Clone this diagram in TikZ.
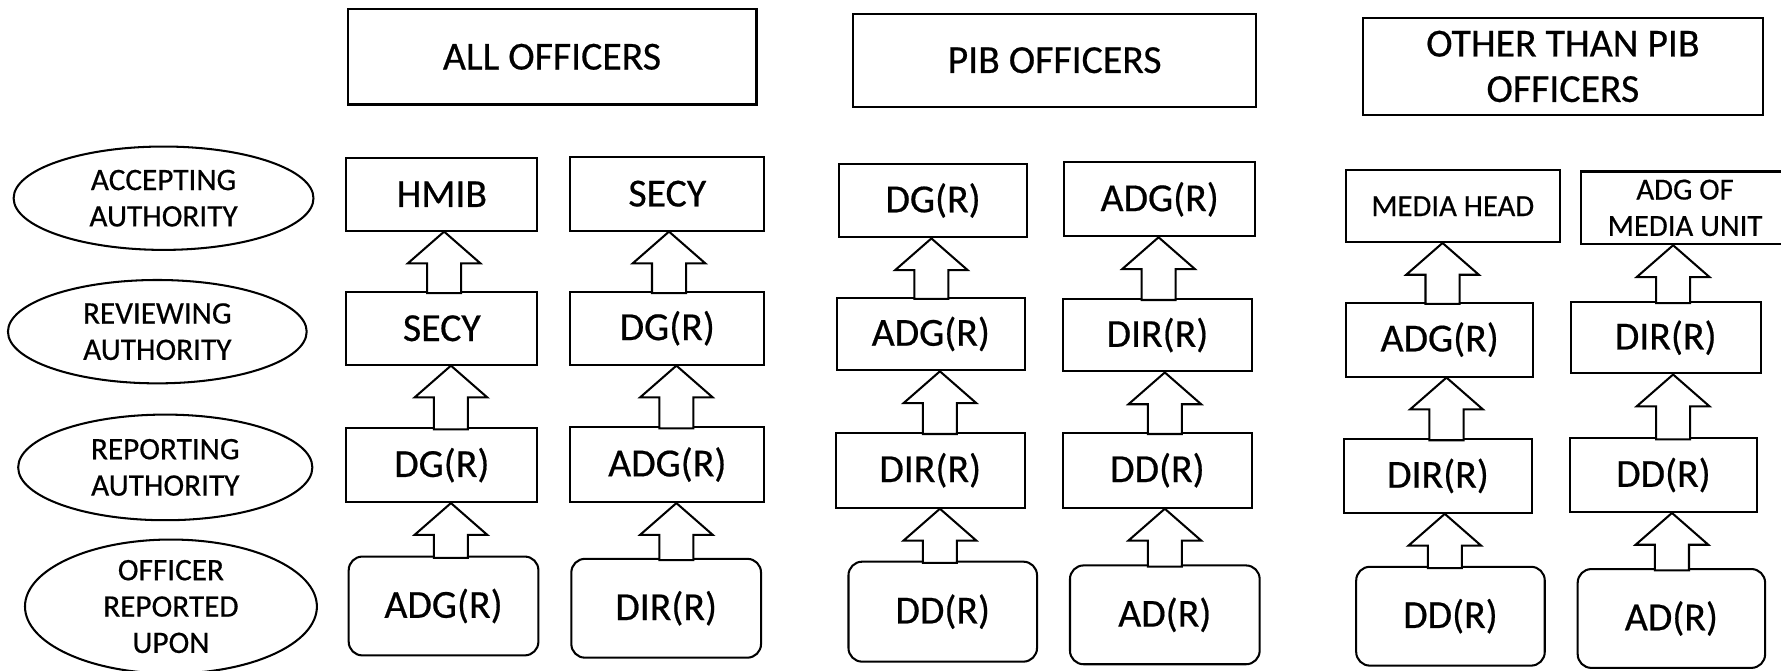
\documentclass[tikz,border=0pt]{standalone}
\usepackage{fontspec}
\setmainfont{Carlito}[FakeBold=0.5]
\usetikzlibrary{shapes.geometric,calc}
\newcommand{\blkarrow}[3]{%
  \coordinate (bt) at (#3,0 |- #1.south);
  \coordinate (bb) at (#3,0 |- #2.north);
  \draw[blk] (bt) -- ($(bt)+(32,28)$) -- ($(bt)+(15,28)$) -- ($(bb)+(15,2)$)
    -- ($(bb)+(-15,2)$) -- ($(bt)+(-15,28)$) -- ($(bt)+(-32,28)$) -- cycle;}
\begin{document}
\begin{tikzpicture}[x=1pt,y=-1pt,line width=1.8pt,
  box/.style={draw,rectangle,inner sep=0pt,align=center,font=\fontsize{35}{40}\selectfont},
  rbox/.style={box,rounded corners=12pt},
  hdr/.style={box,font=\fontsize{35}{40}\selectfont},
  smallbox/.style={box,font=\fontsize{27}{32}\selectfont},
  oval/.style={draw,ellipse,inner sep=0pt,inner ysep=-6pt,align=center,font=\fontsize{27.5}{32}\selectfont},
  blk/.style={draw,fill=white,line join=miter}]
\useasboundingbox (0,0) rectangle (1568,590);
% headers
\node[hdr,minimum width=360,minimum height=84] (h1) at (486,50) {ALL OFFICERS};
\node[hdr,minimum width=355,minimum height=82] (h2) at (928.5,53) {PIB OFFICERS};
\node[hdr,minimum width=352,minimum height=85] (h3) at (1376,58.5) {OTHER THAN PIB\\OFFICERS};
% ellipses
\node[oval,minimum width=264,minimum height=91] (e1) at (144,174.5) {ACCEPTING\\AUTHORITY};
\node[oval,minimum width=263,minimum height=91] (e2) at (138.5,292) {REVIEWING\\AUTHORITY};
\node[oval,minimum width=259,minimum height=93] (e3) at (145.5,411.5) {REPORTING\\AUTHORITY};
\node[oval,minimum width=257,minimum height=118] (e4) at (150.5,534) {OFFICER\\REPORTED\\UPON};
% column 1
\node[box,minimum width=168,minimum height=64] (c1a) at (389,171) {HMIB};
\node[box,minimum width=168,minimum height=64] (c1b) at (389,289) {SECY};
\node[box,minimum width=168,minimum height=65] (c1c) at (389,409.5) {DG(R)};
\node[rbox,minimum width=167,minimum height=87] (c1d) at (390.5,533.5) {ADG(R)};
% column 2
\node[box,minimum width=171,minimum height=65] (c2a) at (587.5,170.5) {SECY};
\node[box,minimum width=171,minimum height=64] (c2b) at (587.5,289) {DG(R)};
\node[box,minimum width=171,minimum height=66] (c2c) at (587.5,409) {ADG(R)};
\node[rbox,minimum width=167,minimum height=87] (c2d) at (586.5,535.5) {DIR(R)};
% column 3
\node[box,minimum width=165,minimum height=65] (c3a) at (821.5,176.5) {DG(R)};
\node[box,minimum width=165,minimum height=64] (c3b) at (819.5,294) {ADG(R)};
\node[box,minimum width=166,minimum height=66] (c3c) at (819,414) {DIR(R)};
\node[rbox,minimum width=166,minimum height=88] (c3d) at (830,538.5) {DD(R)};
% column 4
\node[box,minimum width=168,minimum height=65] (c4a) at (1021,175.5) {ADG(R)};
\node[box,minimum width=166,minimum height=64] (c4b) at (1019,295) {DIR(R)};
\node[box,minimum width=166,minimum height=66] (c4c) at (1019,414) {DD(R)};
\node[rbox,minimum width=167,minimum height=87] (c4d) at (1025.5,541.3) {AD(R)};
% column 5
\node[smallbox,minimum width=188,minimum height=63] (c5a) at (1279,181.5) {MEDIA HEAD};
\node[box,minimum width=165,minimum height=65] (c5b) at (1267.5,299) {ADG(R)};
\node[box,minimum width=166,minimum height=65] (c5c) at (1266,419) {DIR(R)};
\node[rbox,minimum width=166,minimum height=87] (c5d) at (1277,542.5) {DD(R)};
% column 6
\node[smallbox,minimum width=183,minimum height=64] (c6a) at (1483.5,183) {ADG OF\\MEDIA UNIT};
\node[box,minimum width=167,minimum height=63] (c6b) at (1466.5,297.3) {DIR(R)};
\node[box,minimum width=165,minimum height=65] (c6c) at (1464.5,418.2) {DD(R)};
\node[rbox,minimum width=165,minimum height=87] (c6d) at (1471.5,544.5) {AD(R)};
% block arrows
\blkarrow{c1a}{c1b}{391}
\blkarrow{c1b}{c1c}{397}
\blkarrow{c1c}{c1d}{397}
\blkarrow{c2a}{c2b}{589}
\blkarrow{c2b}{c2c}{595.5}
\blkarrow{c2c}{c2d}{595.5}
\blkarrow{c3a}{c3b}{820}
\blkarrow{c3b}{c3c}{827.5}
\blkarrow{c3c}{c3d}{827.5}
\blkarrow{c4a}{c4b}{1020}
\blkarrow{c4b}{c4c}{1025.5}
\blkarrow{c4c}{c4d}{1025.5}
\blkarrow{c5a}{c5b}{1270}
\blkarrow{c5b}{c5c}{1273.5}
\blkarrow{c5c}{c5d}{1272}
\blkarrow{c6a}{c6b}{1473}
\blkarrow{c6b}{c6c}{1473}
\blkarrow{c6c}{c6d}{1472}
\end{tikzpicture}
\end{document}
